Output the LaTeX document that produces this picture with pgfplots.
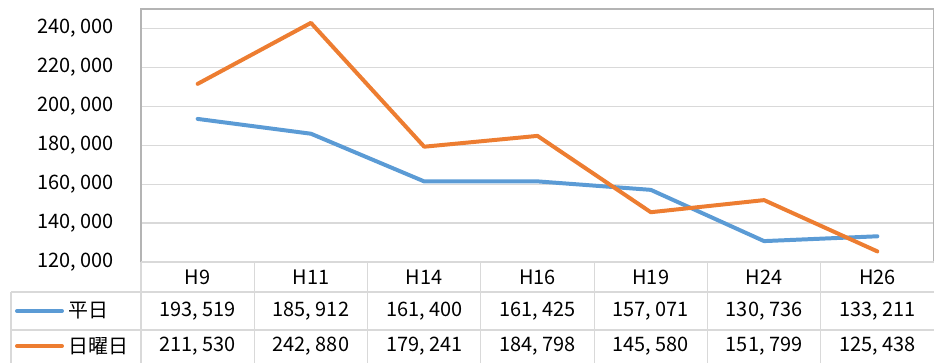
\documentclass[border=0pt]{standalone}
\usepackage{pgfplots}
\pgfplotsset{compat=1.18}
\usepackage{fontspec}
\setmainfont{Noto Sans CJK JP}
\definecolor{bl}{RGB}{91,155,213}
\definecolor{or}{RGB}{237,125,49}
\definecolor{gridc}{RGB}{217,217,217}
\definecolor{framec}{RGB}{180,180,180}
\newcommand\cm{,\hspace{0.22em}}
\begin{document}
\begin{tikzpicture}[font=\fontsize{20}{24}\selectfont]
\useasboundingbox (0,0) rectangle (934bp,363bp);
\begin{axis}[
  at={(141bp,101bp)}, anchor=south west,
  width=793bp, height=253bp, scale only axis,
  xmin=-0.5, xmax=6.5, ymin=120000, ymax=250000,
  xtick=\empty, scaled y ticks=false,
  ytick={120000,140000,160000,180000,200000,220000,240000},
  yticklabels={120\cm000,140\cm000,160\cm000,180\cm000,200\cm000,220\cm000,240\cm000},
  ymajorgrids, grid style={gridc, line width=1.2pt},
  axis line style={framec, line width=1.2pt},
  tick style={draw=none},
  yticklabel style={xshift=-24bp},
  clip=false,
]
\addplot[bl, line width=4pt, line join=round, line cap=round] coordinates {(0,193519)(1,185912)(2,161400)(3,161425)(4,157071)(5,130736)(6,133211)};
\addplot[or, line width=4pt, line join=round, line cap=round] coordinates {(0,211530)(1,242880)(2,179241)(3,184798)(4,145580)(5,151799)(6,125438)};
\end{axis}
\def\cw{113.2857}
\begin{scope}[gridc, line width=1.2pt]
\draw (141bp,101bp) -- (934bp,101bp);
\draw (11bp,71bp) -- (934bp,71bp);
\draw (11bp,33bp) -- (934bp,33bp);
\draw (11bp,71bp) -- (11bp,-2bp);
\foreach \k in {0,...,6} {
  \draw ({(141+\cw*\k)*1bp},101bp) -- ({(141+\cw*\k)*1bp},-2bp);
}
\end{scope}
\foreach \lab [count=\i from 0] in {H9,H11,H14,H16,H19,H24,H26} {
  \node[inner sep=0] at ({(141+\cw*(\i+0.5))*1bp},86bp) {\lab};
}
\foreach \v [count=\i from 0] in {193\cm519,185\cm912,161\cm400,161\cm425,157\cm071,130\cm736,133\cm211} {
  \node[inner sep=0] at ({(141+\cw*(\i+0.5))*1bp},52bp) {\v};
}
\foreach \v [count=\i from 0] in {211\cm530,242\cm880,179\cm241,184\cm798,145\cm580,151\cm799,125\cm438} {
  \node[inner sep=0] at ({(141+\cw*(\i+0.5))*1bp},17bp) {\v};
}
\draw[bl, line width=4pt, line cap=round] (17bp,52bp) -- (62bp,52bp);
\node[anchor=west, inner sep=0] at (68bp,52bp) {平日};
\draw[or, line width=4pt, line cap=round] (17bp,17bp) -- (62bp,17bp);
\node[anchor=west, inner sep=0] at (68bp,17bp) {日曜日};
\end{tikzpicture}
\end{document}
